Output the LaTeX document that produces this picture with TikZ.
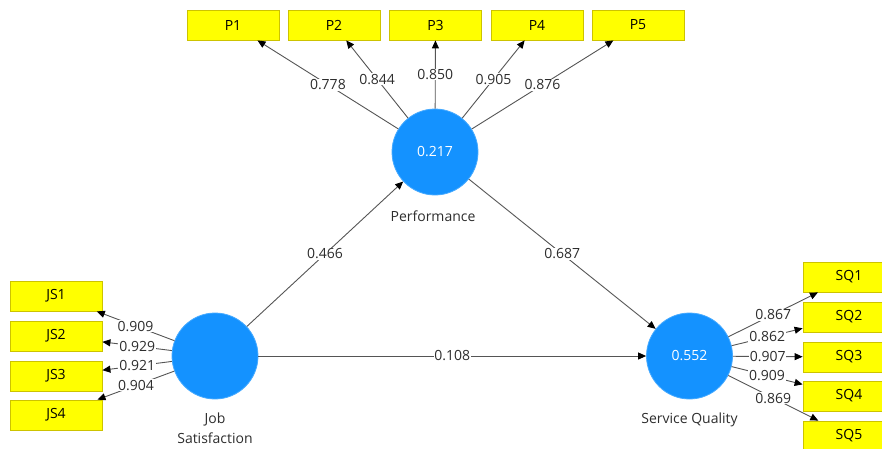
\documentclass[tikz,border=0pt]{standalone}
\usepackage{fontspec}
\setmainfont{Open Sans}
\usetikzlibrary{arrows.meta}
\definecolor{lvblue}{RGB}{20,146,255}
\definecolor{lvedge}{RGB}{70,170,255}
\definecolor{indyellow}{RGB}{255,255,0}
\definecolor{indedge}{RGB}{205,195,0}
\definecolor{pathgray}{RGB}{85,85,85}
\definecolor{labelgray}{RGB}{45,45,45}
\begin{document}
\begin{tikzpicture}[x=1pt,y=-1pt,
  txt/.style={font=\fontsize{14}{17}\selectfont},
  latent/.style={txt,circle,fill=lvblue,draw=lvedge,line width=0.8pt,
    minimum size=86pt,inner sep=0pt,text=white},
  indicator/.style={txt,rectangle,fill=indyellow,draw=indedge,line width=0.8pt,
    minimum width=92pt,minimum height=30pt,inner sep=0pt,text=black},
  link/.style={draw=pathgray,line width=0.9pt,
    -{Triangle[length=8pt,width=7pt,color=black]}},
  coef/.style={txt,fill=white,inner sep=0.8pt,text=labelgray},
  caption/.style={txt,text=labelgray,align=center}
]
\useasboundingbox (0,0) rectangle (882,448);
\clip (0,0) rectangle (882,448);

% latent variables
\node[latent] (perf) at (435,152) {0.217};
\node[latent] (js)   at (215,356) {};
\node[latent] (sq)   at (689.5,356) {0.552};
\node[caption] (perfcap) at (433,216) {Performance};
\node[caption,font=\fontsize{14}{20}\selectfont] (jscap) at (215,428) {Job\\Satisfaction};
\node[caption] (sqcap) at (689.5,420) {Service Quality};

% indicators of Performance
\node[indicator] (p1) at (233,25) {P1};
\node[indicator] (p2) at (334,25) {P2};
\node[indicator] (p3) at (435.5,25) {P3};
\node[indicator] (p4) at (537,25) {P4};
\node[indicator] (p5) at (638,25) {P5};

% indicators of Job Satisfaction
\node[indicator] (js1) at (56,296) {JS1};
\node[indicator] (js2) at (56,336) {JS2};
\node[indicator] (js3) at (56,376) {JS3};
\node[indicator] (js4) at (56,415) {JS4};

% indicators of Service Quality
\node[indicator] (sq1) at (849,277) {SQ1};
\node[indicator] (sq2) at (849,317) {SQ2};
\node[indicator] (sq3) at (849,357) {SQ3};
\node[indicator] (sq4) at (849,396) {SQ4};
\node[indicator] (sq5) at (849,436) {SQ5};

% outer loadings
\draw[link] (perf) -- node[coef] {0.778} (p1);
\draw[link] (perf) -- node[coef] {0.844} (p2);
\draw[link] (perf) -- node[coef] {0.850} (p3);
\draw[link] (perf) -- node[coef] {0.905} (p4);
\draw[link] (perf) -- node[coef] {0.876} (p5);

\draw[link] (js) -- node[coef] {0.909} (js1);
\draw[link] (js) -- node[coef] {0.929} (js2);
\draw[link] (js) -- node[coef] {0.921} (js3);
\draw[link] (js) -- node[coef] {0.904} (js4);

\draw[link] (sq) -- node[coef] {0.867} (sq1);
\draw[link] (sq) -- node[coef] {0.862} (sq2);
\draw[link] (sq) -- node[coef] {0.907} (sq3);
\draw[link] (sq) -- node[coef] {0.909} (sq4);
\draw[link] (sq) -- node[coef] {0.869} (sq5);

% structural paths
\draw[link] (js) -- node[coef] {0.466} (perf);
\draw[link] (perf) -- node[coef] {0.687} (sq);
\draw[link] (js) -- node[coef] {0.108} (sq);
\end{tikzpicture}
\end{document}
